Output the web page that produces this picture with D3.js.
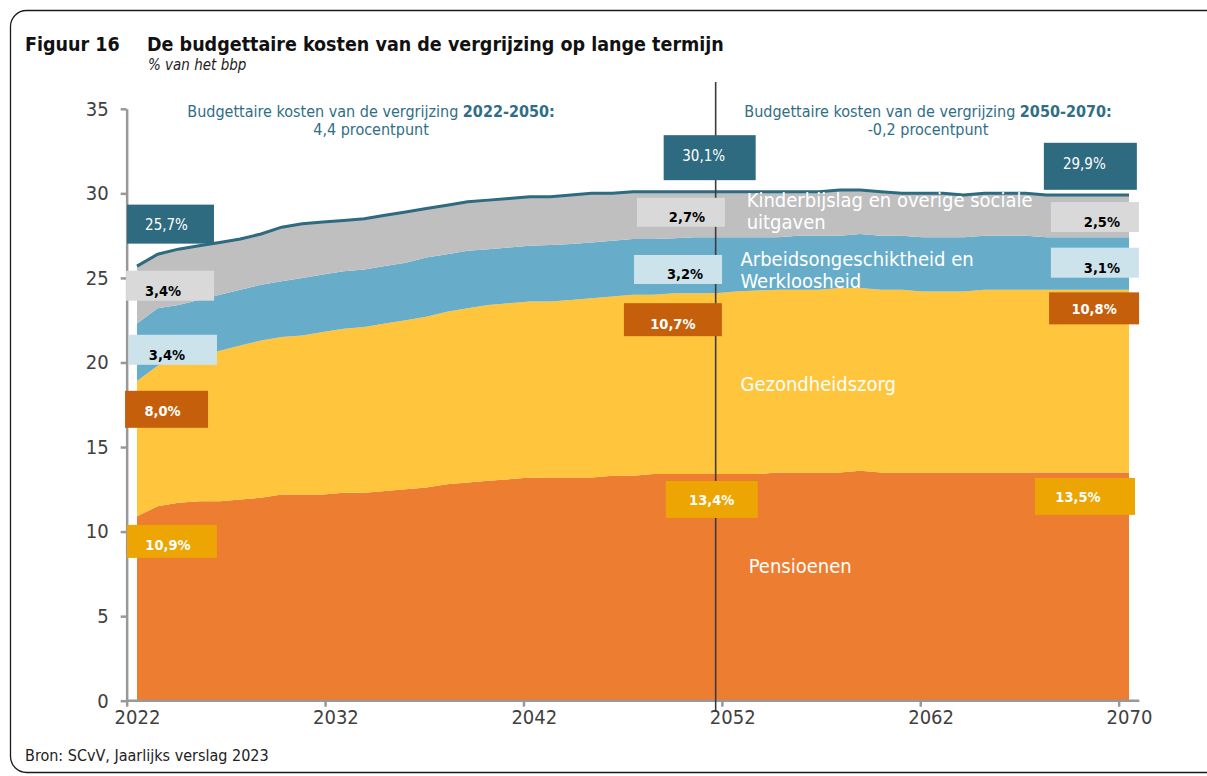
<!DOCTYPE html>
<html>
<head>
<meta charset="utf-8">
<script src="https://cdn.jsdelivr.net/npm/d3@7"></script>
<style>
  body { margin: 0; background: #fff; }
  svg { display: block; }
  text { font-family: "DejaVu Sans Condensed", "DejaVu Sans", sans-serif; font-stretch: condensed; }
</style>
</head>
<body>
<div id="chart"></div>
<script>
var svgWidth = 1207;
var svgHeight = 776;

// jaren en reeksen (% van het bbp)
var years = d3.range(2022, 2071);
var tickLabels = ["2022", "2032", "2042", "2052", "2062", "2070"];
var yTicks = [0, 5, 10, 15, 20, 25, 30, 35];

var pensioenen = [10.9, 11.5, 11.7, 11.8, 11.8, 11.9, 12.0, 12.2, 12.2, 12.2,
  12.3, 12.3, 12.4, 12.5, 12.6, 12.8, 12.9, 13.0, 13.1, 13.2,
  13.2, 13.2, 13.2, 13.3, 13.3, 13.4, 13.4, 13.4, 13.4, 13.4,
  13.4, 13.5, 13.5, 13.5, 13.5, 13.6, 13.5, 13.5, 13.5, 13.5,
  13.5, 13.5, 13.5, 13.5, 13.5, 13.5, 13.5, 13.5, 13.5];
var zorg = [8.0, 8.3, 8.5, 8.7, 8.9, 9.1, 9.3, 9.3, 9.4, 9.6,
  9.7, 9.8, 9.9, 10.0, 10.1, 10.2, 10.3, 10.4, 10.4, 10.4,
  10.4, 10.5, 10.6, 10.6, 10.7, 10.6, 10.7, 10.7, 10.7, 10.8,
  10.85, 10.8, 10.8, 10.8, 10.9, 10.8, 10.8, 10.8, 10.7, 10.7,
  10.7, 10.8, 10.8, 10.8, 10.8, 10.8, 10.8, 10.8, 10.8];
var arbeid = [3.4, 3.4, 3.2, 3.2, 3.3, 3.3, 3.3, 3.3, 3.4, 3.4,
  3.4, 3.4, 3.4, 3.4, 3.5, 3.4, 3.4, 3.3, 3.3, 3.3,
  3.35, 3.3, 3.3, 3.3, 3.3, 3.3, 3.25, 3.3, 3.3, 3.2,
  3.15, 3.1, 3.2, 3.2, 3.1, 3.2, 3.2, 3.2, 3.2, 3.2,
  3.2, 3.2, 3.2, 3.2, 3.1, 3.1, 3.1, 3.1, 3.1];
var overig = [3.4, 3.2, 3.3, 3.2, 3.1, 3.0, 3.0, 3.2, 3.2, 3.1,
  3.0, 3.0, 3.0, 3.0, 2.9, 2.9, 2.9, 2.9, 2.9, 2.9,
  2.85, 2.9, 2.9, 2.8, 2.8, 2.8, 2.75, 2.7, 2.7, 2.7,
  2.7, 2.7, 2.6, 2.6, 2.7, 2.6, 2.6, 2.5, 2.6, 2.6,
  2.5, 2.5, 2.5, 2.5, 2.5, 2.5, 2.5, 2.5, 2.5];

// waardelabels bij 2022, 2050 en 2070
var labelYears = [2022, 2050, 2070];
var totaalLabels = ["25,7%", "30,1%", "29,9%"];
var overigLabels = ["3,4%", "2,7%", "2,5%"];
var arbeidLabels = ["3,4%", "3,2%", "3,1%"];
var zorgLabels = ["8,0%", "10,7%", "10,8%"];
var pensioenLabels = ["10,9%", "13,4%", "13,5%"];

var keys = ["pensioenen", "zorg", "arbeid", "overig"];
var colors = {
  pensioenen: "#ED7D31",
  zorg: "#FFC63D",
  arbeid: "#67ADC9",
  overig: "#BFBFBF"
};
var lineColor = "#2E6A80";

var rows = years.map(function (yr, i) {
  return { year: yr, pensioenen: pensioenen[i], zorg: zorg[i], arbeid: arbeid[i], overig: overig[i] };
});

var svg = d3.select("#chart")
  .append("svg")
  .attr("width", svgWidth)
  .attr("height", svgHeight);

// kader
svg.append("rect")
  .attr("x", 10.5).attr("y", 10.5)
  .attr("width", 1250).attr("height", 762)
  .attr("rx", 16)
  .attr("fill", "none")
  .attr("stroke", "#1a1a1a")
  .attr("stroke-width", 1.3);

// scales
var x = d3.scaleLinear().domain([2022, 2070]).range([137, 1129]);
var y = d3.scaleLinear().domain([0, 35]).range([700.7, 108.8]);
var halfStep = (x(2023) - x(2022)) / 2;
var xTicks = d3.scalePoint()
  .domain(tickLabels)
  .range([x(2022) - halfStep, x(2070) - halfStep]);

// stacked areas
var stack = d3.stack().keys(keys);
var series = stack(rows);

var area = d3.area()
  .x(function (d) { return x(d.data.year); })
  .y0(function (d) { return y(d[0]); })
  .y1(function (d) { return y(d[1]); });

svg.append("g").selectAll("path")
  .data(series)
  .enter()
  .append("path")
  .attr("d", area)
  .attr("fill", function (d) { return colors[d.key]; });

// totaal lijn
var line = d3.line()
  .x(function (d) { return x(d.data.year); })
  .y(function (d) { return y(d[1]); });

svg.append("path")
  .datum(series[series.length - 1])
  .attr("d", line)
  .attr("fill", "none")
  .attr("stroke", lineColor)
  .attr("stroke-width", 3);

// y axis
var yAxis = svg.append("g")
  .attr("transform", "translate(" + (x(2022) - halfStep) + ",0)")
  .call(d3.axisLeft(y).tickValues(yTicks).tickSize(6).tickSizeOuter(0).tickPadding(12));

// x axis
var xAxis = svg.append("g")
  .attr("transform", "translate(0," + y(0) + ")")
  .call(d3.axisBottom(xTicks).tickSize(6).tickSizeOuter(0).tickPadding(3));
xAxis.select(".domain")
  .attr("d", "M" + (x(2022) - halfStep) + ",0H" + (x(2070) + halfStep));
xAxis.selectAll(".tick text").attr("dx", halfStep);

[yAxis, xAxis].forEach(function (ax) {
  ax.selectAll(".domain, .tick line")
    .attr("stroke", "#989898")
    .attr("stroke-width", 2.5);
  ax.selectAll(".tick text")
    .attr("fill", "#404040")
    .style("font-size", "20px");
});

// verticale lijn bij 2050
svg.append("line")
  .attr("x1", x(2050)).attr("x2", x(2050))
  .attr("y1", 82).attr("y2", y(0) + 11)
  .attr("stroke", "#3c3c3c")
  .attr("stroke-width", 1.6);

// waardelabels: [jaarverschuiving, midden (waarde), breedte, hoogte, tekst dx, tekst dy]
var boxStyle = {
  totaal:     { fill: "#2E6A80", text: "#ffffff", weight: "normal" },
  overig:     { fill: "#D9D9D9", text: "#000000", weight: "bold" },
  arbeid:     { fill: "#CDE3EC", text: "#000000", weight: "bold" },
  zorg:       { fill: "#C55F0C", text: "#ffffff", weight: "bold" },
  pensioenen: { fill: "#ECA502", text: "#ffffff", weight: "bold" }
};
var boxLayout = {
  totaal:     [[1.62, 28.18, 87, 39, -4, 6], [-0.29, 32.11, 92, 45, -6, 3], [-1.87, 31.6, 93, 47, -6, 3]],
  overig:     [[1.60, 24.54, 88, 30, -7, 10], [-1.68, 28.88, 88, 29, 6, 10], [-1.65, 28.6, 88, 30, 7, 10]],
  arbeid:     [[1.74, 20.75, 88, 30, -6, 10], [-1.82, 25.50, 88, 29, 7, 10], [-1.65, 25.9, 88, 30, 7, 10]],
  zorg:       [[1.43, 17.23, 83, 37, -4, 7], [-2.07, 22.53, 98, 33, 0, 9], [-1.69, 23.2, 90, 32, 0, 6]],
  pensioenen: [[1.69, 9.42, 90, 33, -4, 9], [-0.19, 11.9, 92, 37, 0, 6], [-2.13, 12.08, 100, 37, -7, 6]]
};
var boxTexts = {
  totaal: totaalLabels, overig: overigLabels, arbeid: arbeidLabels,
  zorg: zorgLabels, pensioenen: pensioenLabels
};

var boxes = [];
Object.keys(boxLayout).forEach(function (k) {
  boxLayout[k].forEach(function (b, i) {
    boxes.push({ key: k, year: labelYears[i], label: boxTexts[k][i], b: b });
  });
});

var boxGroup = svg.append("g").selectAll("g")
  .data(boxes)
  .enter()
  .append("g")
  .attr("transform", function (d) {
    return "translate(" + x(d.year + d.b[0]) + "," + y(d.b[1]) + ")";
  });

boxGroup.append("rect")
  .attr("x", function (d) { return -d.b[2] / 2; })
  .attr("y", function (d) { return -d.b[3] / 2; })
  .attr("width", function (d) { return d.b[2]; })
  .attr("height", function (d) { return d.b[3]; })
  .attr("fill", function (d) { return boxStyle[d.key].fill; });

boxGroup.append("text")
  .attr("x", function (d) { return d.b[4]; })
  .attr("y", function (d) { return d.b[5]; })
  .attr("text-anchor", "middle")
  .attr("fill", function (d) { return boxStyle[d.key].text; })
  .attr("font-weight", function (d) { return boxStyle[d.key].weight; })
  .style("font-size", function (d) { return boxStyle[d.key].weight === "bold" ? "14.5px" : "15px"; })
  .text(function (d) { return d.label; });

// reekslabels
var seriesLabels = [
  { lines: ["Kinderbijslag en overige sociale", "uitgaven"], year: 2051.5, value: 29.17 },
  { lines: ["Arbeidsongeschiktheid en", "Werkloosheid"], year: 2051.2, value: 25.68 },
  { lines: ["Gezondheidszorg"], year: 2051.2, value: 18.34 },
  { lines: ["Pensioenen"], year: 2051.6, value: 7.57 }
];
seriesLabels.forEach(function (s) {
  var t = svg.append("text")
    .attr("x", x(s.year))
    .attr("y", y(s.value))
    .attr("fill", "#ffffff")
    .style("font-size", "20px");
  s.lines.forEach(function (ln, i) {
    t.append("tspan")
      .attr("x", x(s.year))
      .attr("dy", i === 0 ? 0 : 22)
      .text(ln);
  });
});

// toelichting bovenaan
var notes = [
  { period: "2022-2050:", change: "4,4 procentpunt", cx: 371 },
  { period: "2050-2070:", change: "-0,2 procentpunt", cx: 928 }
];
notes.forEach(function (n) {
  var t1 = svg.append("text")
    .attr("x", n.cx).attr("y", 117)
    .attr("text-anchor", "middle")
    .attr("fill", "#2F6E86")
    .style("font-size", "16px");
  t1.append("tspan").text("Budgettaire kosten van de vergrijzing ");
  t1.append("tspan").attr("font-weight", "bold").text(n.period);
  svg.append("text")
    .attr("x", n.cx).attr("y", 135)
    .attr("text-anchor", "middle")
    .attr("fill", "#2F6E86")
    .style("font-size", "16px")
    .text(n.change);
});

// titel
svg.append("text")
  .attr("x", 25).attr("y", 51)
  .attr("font-weight", "bold")
  .attr("fill", "#111")
  .style("font-size", "19.5px")
  .text("Figuur 16");
svg.append("text")
  .attr("x", 147).attr("y", 51)
  .attr("font-weight", "bold")
  .attr("fill", "#111")
  .style("font-size", "19.5px")
  .text("De budgettaire kosten van de vergrijzing op lange termijn");
svg.append("text")
  .attr("x", 148).attr("y", 70)
  .attr("font-style", "italic")
  .attr("fill", "#222")
  .style("font-size", "15px")
  .text("% van het bbp");

// bron
svg.append("text")
  .attr("x", 25).attr("y", 761)
  .attr("fill", "#222")
  .style("font-size", "16px")
  .text("Bron: SCvV, Jaarlijks verslag 2023");
</script>
</body>
</html>
